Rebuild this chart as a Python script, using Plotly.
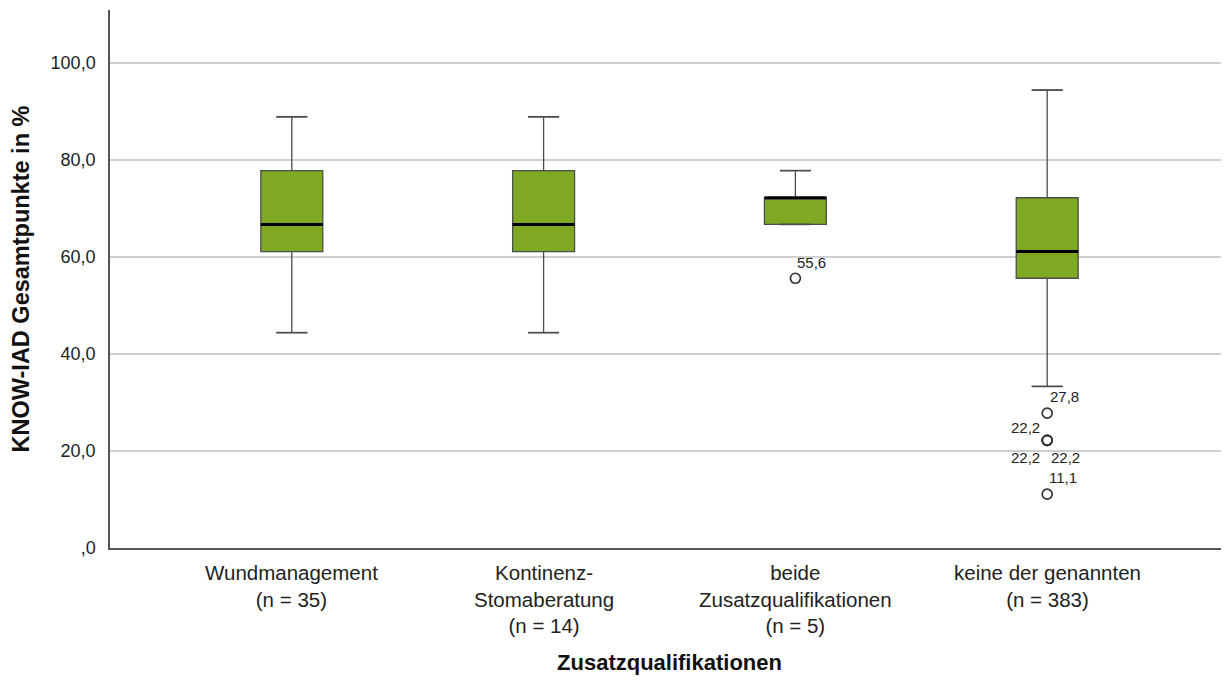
import plotly.graph_objects as go

category_lines = [["Wundmanagement", "(n = 35)"],
                  ["Kontinenz-", "Stomaberatung", "(n = 14)"],
                  ["beide", "Zusatzqualifikationen", "(n = 5)"],
                  ["keine der genannten", "(n = 383)"]]
lower_whisker = [44.4, 44.4, 66.7, 33.3]
q1 = [61.1, 61.1, 66.7, 55.6]
median = [66.7, 66.7, 72.2, 61.1]
q3 = [77.8, 77.8, 72.2, 72.2]
upper_whisker = [88.9, 88.9, 77.8, 94.4]
# outliers: category index, value, label
outlier_cat = [2, 3, 3, 3, 3, 3]
outlier_val = [55.6, 27.8, 22.2, 22.2, 22.2, 11.1]
outlier_lbl = ["55,6", "27,8", "22,2", "22,2", "22,2", "11,1"]
lbl_dx = [16, 17, -22, -22, 18, 16]
lbl_dy = [16, 17, 13, -17, -17, 17]

ytick_vals = [0, 20, 40, 60, 80, 100]
ytick_text = [",0", "20,0", "40,0", "60,0", "80,0", "100,0"]

FILL = "#7FA922"
EDGE = "#4d4d4d"
BW = 0.246
FONT = "Liberation Sans, Arial, sans-serif"
TXT = "#222222"

xs = list(range(len(category_lines)))
fig = go.Figure()
fig.add_trace(go.Box(
    x=xs, q1=q1, median=median, q3=q3,
    lowerfence=lower_whisker, upperfence=upper_whisker,
    width=BW, fillcolor=FILL, line=dict(color=EDGE, width=1.3),
    whiskerwidth=0.5, boxpoints=False, showlegend=False, hoverinfo="skip"))

for i in xs:
    for v in (lower_whisker[i], upper_whisker[i]):
        fig.add_trace(go.Scatter(x=[i - BW / 4, i + BW / 4], y=[v, v], mode="lines",
                                 line=dict(color=EDGE, width=1.6), showlegend=False, hoverinfo="skip"))
    fig.add_trace(go.Scatter(x=[i - BW / 2, i + BW / 2], y=[median[i], median[i]], mode="lines",
                             line=dict(color="black", width=3), showlegend=False, hoverinfo="skip"))

fig.add_trace(go.Scatter(x=outlier_cat, y=outlier_val, mode="markers",
                         marker=dict(symbol="circle-open", size=10, color="#333333", line=dict(width=1.7)),
                         showlegend=False, hoverinfo="skip"))
for c, v, t, dx, dy in zip(outlier_cat, outlier_val, outlier_lbl, lbl_dx, lbl_dy):
    fig.add_annotation(x=c, y=v, text=t, showarrow=False, xshift=dx, yshift=dy,
                       font=dict(family=FONT, size=15, color=TXT))

# category labels
for i, lines in enumerate(category_lines):
    fig.add_annotation(x=i, xref="x", y=0, yref="paper", text="<br>".join(lines), showarrow=False,
                       yanchor="top", yshift=-11, align="center",
                       font=dict(family=FONT, size=20.5, color=TXT))

fig.update_layout(
    width=1229, height=680,
    margin=dict(l=102, r=8, t=2, b=140),
    paper_bgcolor="white", plot_bgcolor="white",
    font=dict(family=FONT, size=16, color=TXT),
    xaxis=dict(range=[-0.722, 3.722], tickvals=xs, showticklabels=False,
               showgrid=False, zeroline=False, showline=True, linecolor="#555555", linewidth=1.5,
               ticks="",
               title=dict(text="<b>Zusatzqualifikationen</b>", font=dict(size=22, color="#111111"), standoff=106)),
    yaxis=dict(range=[0, 110.9], tickvals=ytick_vals, ticktext=ytick_text,
               showgrid=True, gridcolor="#cfcfcf", gridwidth=2, zeroline=False,
               showline=True, linecolor="#555555", linewidth=1.5, ticks="",
               ticklabelstandoff=9,
               tickfont=dict(size=18, color=TXT),
               title=dict(text="<b>KNOW-IAD Gesamtpunkte in %</b>", font=dict(size=23.5, color="#111111"), standoff=20)),
)
fig.write_html("out.html")
